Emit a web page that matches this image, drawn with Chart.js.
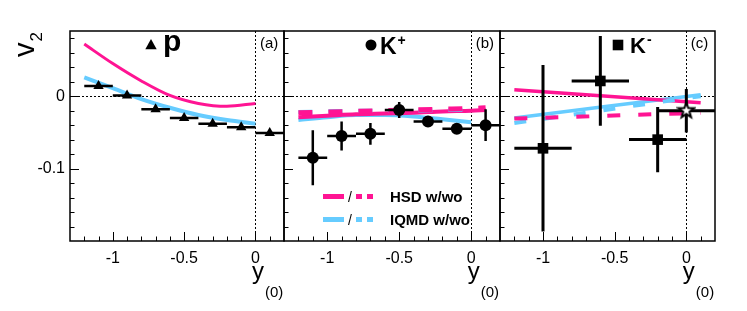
<!DOCTYPE html>
<html>
<head>
<meta charset="utf-8">
<script src="https://cdn.jsdelivr.net/npm/chart.js@4.4.1/dist/chart.umd.min.js"></script>
<style>
  body { margin: 0; background: #fff; }
  #wrap { position: relative; width: 747px; height: 311px; }
  #wrap canvas { position: absolute; left: 0; top: 0; }
</style>
</head>
<body>
<div id="wrap">
  <canvas id="pa" width="747" height="311"></canvas>
  <canvas id="pb" width="747" height="311"></canvas>
  <canvas id="pc" width="747" height="311"></canvas>
</div>
<script>
const FONT = "'Liberation Sans', Arial, Helvetica, sans-serif";
const PINK = 'rgb(255,20,147)';
const BLUE = 'rgb(102,204,255)';

// axis ticks
const xTickLabels = [-1, -0.5, 0];
const yTickLabels = [0, -0.1];

// (a) protons
const pX = [-1.1, -0.9, -0.7, -0.5, -0.3, -0.1, 0.1];
const pV2 = [0.014, 0.001, -0.018, -0.030, -0.038, -0.043, -0.051];
const pErrX = [0.1, 0.1, 0.1, 0.1, 0.1, 0.1, 0.1];
const pErrY = [0.002, 0.002, 0.002, 0.002, 0.002, 0.002, 0.002];
const pCurveX = [-1.2, -1.0, -0.8, -0.6, -0.4, -0.2, 0.0];
const pHsd = [0.072, 0.045, 0.021, 0.001, -0.010, -0.014, -0.010];
const pIqmd = [0.026, 0.011, -0.004, -0.016, -0.026, -0.033, -0.038];

// (b) K+
const kpX = [-1.1, -0.9, -0.7, -0.5, -0.3, -0.1, 0.1];
const kpV2 = [-0.085, -0.055, -0.052, -0.019, -0.035, -0.045, -0.040];
const kpErrX = [0.1, 0.1, 0.1, 0.1, 0.1, 0.1, 0.1];
const kpErrY = [0.038, 0.020, 0.015, 0.011, 0.007, 0.007, 0.022];
const kpHsdX = [-1.2, -1.0, -0.8, -0.6, -0.4, -0.2, 0.0, 0.1];
const kpHsdW = [-0.029, -0.027, -0.025, -0.024, -0.023, -0.021, -0.020, -0.019];
const kpHsdWo = [-0.023, -0.022, -0.021, -0.020, -0.019, -0.018, -0.017, -0.016];
const kpIqmdX = [-1.2, -1.0, -0.8, -0.6, -0.4, -0.2, 0.0];
const kpIqmdW = [-0.033, -0.029, -0.026, -0.026, -0.028, -0.032, -0.036];
const kpIqmdWo = [-0.022, -0.021, -0.020, -0.020, -0.020, -0.019, -0.019];

// (c) K-
const kmX = [-1.0, -0.6, -0.2];
const kmV2 = [-0.072, 0.021, -0.060];
const kmErrX = [0.2, 0.2, 0.2];
const kmErrY = [0.115, 0.062, 0.045];
const kmStarX = [0.0];
const kmStarV2 = [-0.020];
const kmStarErrX = [0.2];
const kmStarErrY = [0.030];
const kmCurveX = [-1.2, 0.1];
const kmHsdW = [0.009, -0.009];
const kmHsdWo = [-0.031, -0.023];
const kmIqmdW = [-0.030, 0.002];
const kmIqmdWo = [-0.037, 0.000];

// open star marker
const star = document.createElement('canvas');
star.width = 20; star.height = 20;
(function () {
  const c = star.getContext('2d');
  c.beginPath();
  for (let i = 0; i < 10; i++) {
    const r = i % 2 ? 3.3 : 8;
    const a = -Math.PI / 2 + i * Math.PI / 5;
    c.lineTo(10 + r * Math.cos(a), 10 + r * Math.sin(a));
  }
  c.closePath();
  c.fillStyle = '#fff'; c.fill();
  c.lineWidth = 2; c.strokeStyle = '#000'; c.stroke();
})();

function pts(xs, ys) { return xs.map((x, i) => ({ x: x, y: ys[i] })); }

function marker(ctx, style, x, y, s) {
  ctx.fillStyle = '#000';
  ctx.beginPath();
  if (style === 'triangle') {
    ctx.moveTo(x, y - s); ctx.lineTo(x + s * 0.95, y + s * 0.7); ctx.lineTo(x - s * 0.95, y + s * 0.7);
  } else if (style === 'circle') {
    ctx.arc(x, y, s, 0, Math.PI * 2);
  } else {
    ctx.rect(x - s, y - s, 2 * s, 2 * s);
  }
  ctx.fill();
}

function makePanel(id, p) {
  const datasets = [];
  p.markers.forEach(m => datasets.push({
    data: pts(m.x, m.y), errX: m.ex, errY: m.ey, isMarker: true, errW: m.errW,
    pointStyle: m.style, pointRadius: m.r, backgroundColor: '#000', borderColor: '#000',
    borderWidth: 0, showLine: false
  }));
  p.curves.forEach(c => datasets.push({
    data: pts(c.x, c.y), showLine: true, pointRadius: 0, borderColor: c.color,
    borderWidth: c.w, borderDash: c.dash || [], cubicInterpolationMode: 'monotone', fill: false
  }));

  return new Chart(document.getElementById(id), {
    type: 'scatter',
    data: { datasets: datasets },
    options: {
      responsive: false,
      animation: false,
      layout: { padding: { left: p.padL, right: p.padR, top: 31, bottom: 0 } },
      plugins: { legend: { display: false }, tooltip: { enabled: false } },
      scales: {
        x: {
          type: 'linear', min: -1.3, max: 0.2,
          grid: { display: false, drawTicks: false }, border: { display: false },
          ticks: { color: '#000', font: { family: FONT, size: 16 }, padding: 8, callback: v => String(v) },
          afterBuildTicks: ax => { ax.ticks = xTickLabels.map(v => ({ value: v })); },
          afterFit: ax => { ax.height = 70; }
        },
        y: {
          type: 'linear', min: -0.2, max: 0.09, display: p.showY,
          grid: { display: false, drawTicks: false }, border: { display: false },
          ticks: { color: '#000', font: { family: FONT, size: 16 }, padding: 5, callback: v => String(v) },
          afterBuildTicks: ax => { ax.ticks = yTickLabels.map(v => ({ value: v })); },
          afterFit: ax => { ax.width = p.showY ? 70 : 0; }
        }
      }
    },
    plugins: [{
      id: 'deco',
      beforeDatasetsDraw(chart) {
        const { ctx, chartArea: a, scales: { x, y } } = chart;
        ctx.save();
        ctx.strokeStyle = '#000'; ctx.lineWidth = 1; ctx.setLineDash([2, 2]);
        ctx.beginPath();
        const y0 = Math.round(y.getPixelForValue(0)) + 0.5;
        const x0 = Math.round(x.getPixelForValue(0)) + 0.5;
        ctx.moveTo(a.left, y0); ctx.lineTo(a.right, y0);
        ctx.moveTo(x0, a.top); ctx.lineTo(x0, a.bottom);
        ctx.stroke();
        ctx.restore();
      },
      beforeDatasetDraw(chart, args) {
        const ds = chart.data.datasets[args.index];
        if (!ds.isMarker) return;
        const { ctx, chartArea: a, scales: { x, y } } = chart;
        ctx.save();
        ctx.beginPath(); ctx.rect(a.left, a.top, a.right - a.left, a.bottom - a.top); ctx.clip();
        ctx.strokeStyle = '#000'; ctx.lineWidth = ds.errW;
        ctx.beginPath();
        ds.data.forEach((d, i) => {
          const py = y.getPixelForValue(d.y), px = x.getPixelForValue(d.x);
          ctx.moveTo(x.getPixelForValue(d.x - ds.errX[i]), py);
          ctx.lineTo(x.getPixelForValue(d.x + ds.errX[i]), py);
          ctx.moveTo(px, y.getPixelForValue(d.y + ds.errY[i]));
          ctx.lineTo(px, y.getPixelForValue(d.y - ds.errY[i]));
        });
        ctx.stroke();
        ctx.restore();
      },
      afterDraw(chart) {
        const { ctx, chartArea: a, scales: { x, y } } = chart;
        ctx.save();
        ctx.strokeStyle = '#000'; ctx.lineWidth = 1;
        ctx.beginPath();
        for (let i = -9; i <= 4; i++) {
          const py = Math.round(y.getPixelForValue(i * 0.02)) + 0.5;
          const len = i % 5 === 0 ? 9 : 4.5;
          ctx.moveTo(a.left, py); ctx.lineTo(a.left + len, py);
        }
        for (let i = -12; i <= 1; i++) {
          const px = Math.round(x.getPixelForValue(i / 10)) + 0.5;
          const len = i % 5 === 0 ? 9 : 4.5;
          ctx.moveTo(px, a.bottom); ctx.lineTo(px, a.bottom - len);
        }
        ctx.stroke();
        ctx.lineWidth = 1.5;
        ctx.strokeRect(a.left, a.top, a.right - a.left, a.bottom - a.top);

        // particle label
        ctx.fillStyle = '#000';
        marker(ctx, p.sym, a.left + p.symDx, 45, p.symS);
        ctx.font = 'bold ' + p.nameSize + 'px ' + FONT;
        ctx.textBaseline = 'alphabetic'; ctx.textAlign = 'left';
        ctx.fillText(p.name, a.left + p.nameDx, p.nameBase);
        if (p.sup) {
          const w = ctx.measureText(p.name).width;
          ctx.font = 'bold 14px ' + FONT;
          ctx.fillText(p.sup, a.left + p.nameDx + w + 1, p.nameBase - 9);
        }
        const x0 = x.getPixelForValue(0);
        ctx.font = '15px ' + FONT;
        ctx.fillText(p.tag, x0 + 4.5, 48);

        // axis title y(0)
        ctx.font = '24px ' + FONT;
        ctx.fillText('y', x0 - 3.5, 279);
        const wy = ctx.measureText('y').width;
        ctx.font = '15px ' + FONT;
        ctx.fillText('(0)', x0 - 3.5 + wy + 1, 297);

        if (p.showY) {
          ctx.save();
          ctx.translate(34, 57);
          ctx.rotate(-Math.PI / 2);
          ctx.font = '29px ' + FONT;
          ctx.fillText('v', 0, 0);
          const wv = ctx.measureText('v').width;
          ctx.font = '17px ' + FONT;
          ctx.fillText('2', wv + 1, 8);
          ctx.restore();
        }

        if (p.legend) {
          const rows = [['HSD w/wo', PINK, 196.5], ['IQMD w/wo', BLUE, 219.5]];
          rows.forEach(r => {
            ctx.strokeStyle = r[1]; ctx.lineWidth = 5;
            ctx.setLineDash([]);
            ctx.beginPath(); ctx.moveTo(a.left + 39, r[2]); ctx.lineTo(a.left + 60, r[2]); ctx.stroke();
            ctx.setLineDash([6, 5]);
            ctx.beginPath(); ctx.moveTo(a.left + 72, r[2]); ctx.lineTo(a.left + 91, r[2]); ctx.stroke();
            ctx.setLineDash([]);
            ctx.fillStyle = '#000';
            ctx.font = '14px ' + FONT;
            ctx.fillText('/', a.left + 64, r[2] + 5);
            ctx.font = 'bold 15px ' + FONT;
            ctx.fillText(r[0], a.left + 106, r[2] + 5.5);
          });
        }
        ctx.restore();
      }
    }]
  });
}

makePanel('pa', {
  padL: 0, padR: 747 - 284, showY: true,
  sym: 'triangle', symDx: 81, symS: 6, name: 'p', nameDx: 93, nameSize: 30, nameBase: 51, tag: '(a)',
  markers: [{ x: pX, y: pV2, ex: pErrX, ey: pErrY, style: 'triangle', r: 6, errW: 2.5 }],
  curves: [
    { x: pCurveX, y: pHsd, color: PINK, w: 3 },
    { x: pCurveX, y: pIqmd, color: BLUE, w: 4 }
  ]
});

makePanel('pb', {
  padL: 284, padR: 747 - 500, showY: false,
  sym: 'circle', symDx: 87, symS: 5.5, name: 'K', sup: '+', nameDx: 96, nameSize: 23, nameBase: 54, tag: '(b)',
  legend: true,
  markers: [{ x: kpX, y: kpV2, ex: kpErrX, ey: kpErrY, style: 'circle', r: 6, errW: 2.5 }],
  curves: [
    { x: kpHsdX, y: kpHsdWo, color: PINK, w: 5, dash: [14, 16] },
    { x: kpIqmdX, y: kpIqmdWo, color: BLUE, w: 4, dash: [14, 16] },
    { x: kpHsdX, y: kpHsdW, color: PINK, w: 4 },
    { x: kpIqmdX, y: kpIqmdW, color: BLUE, w: 4 }
  ]
});

makePanel('pc', {
  padL: 500, padR: 747 - 715, showY: false,
  sym: 'rect', symDx: 118, symS: 5.3, name: 'K', sup: '-', nameDx: 130, nameSize: 22, nameBase: 53, tag: '(c)',
  markers: [
    { x: kmX, y: kmV2, ex: kmErrX, ey: kmErrY, style: 'rect', r: 7.5, errW: 3 },
    { x: kmStarX, y: kmStarV2, ex: kmStarErrX, ey: kmStarErrY, style: star, r: 8, errW: 3 }
  ],
  curves: [
    { x: kmCurveX, y: kmHsdWo, color: PINK, w: 4, dash: [13, 18] },
    { x: kmCurveX, y: kmIqmdWo, color: BLUE, w: 4, dash: [12, 18] },
    { x: kmCurveX, y: kmHsdW, color: PINK, w: 3.5 },
    { x: kmCurveX, y: kmIqmdW, color: BLUE, w: 3.5 }
  ]
});
</script>
</body>
</html>
